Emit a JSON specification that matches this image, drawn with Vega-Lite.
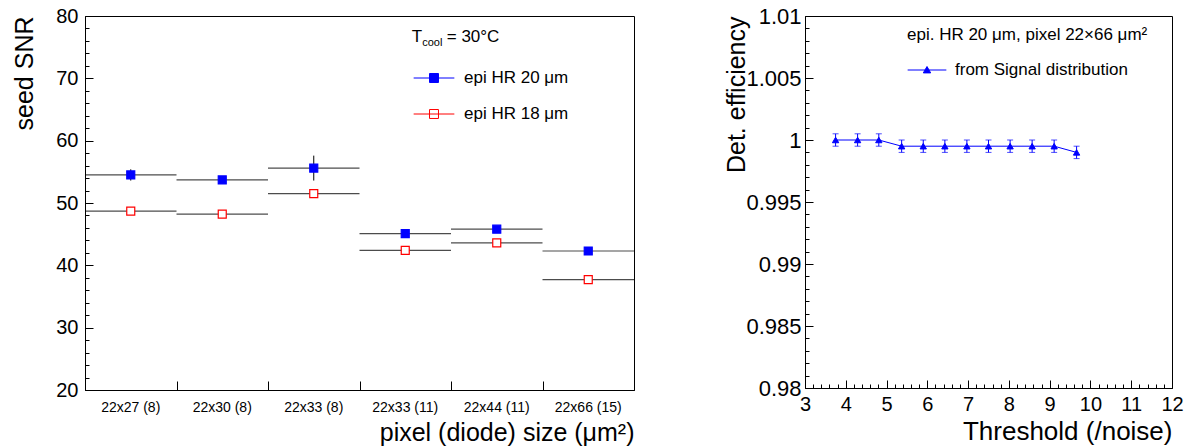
{
  "$schema": "https://vega.github.io/schema/vega-lite/v6.json",
  "padding": {"left": 12, "top": 4, "right": 0, "bottom": 0},
  "background": "white",
  "datasets": {
    "snr": [
      {"size": "22x27 (8)", "series": "epi HR 20 μm", "snr": 54.5, "err": 0.9},
      {"size": "22x30 (8)", "series": "epi HR 20 μm", "snr": 53.7, "err": 0.4},
      {"size": "22x33 (8)", "series": "epi HR 20 μm", "snr": 55.6, "err": 2.0},
      {"size": "22x33 (11)", "series": "epi HR 20 μm", "snr": 45.1, "err": 0.4},
      {"size": "22x44 (11)", "series": "epi HR 20 μm", "snr": 45.8, "err": 0.4},
      {"size": "22x66 (15)", "series": "epi HR 20 μm", "snr": 42.3, "err": 0.4},
      {"size": "22x27 (8)", "series": "epi HR 18 μm", "snr": 48.7, "err": 0.4},
      {"size": "22x30 (8)", "series": "epi HR 18 μm", "snr": 48.2, "err": 0.4},
      {"size": "22x33 (8)", "series": "epi HR 18 μm", "snr": 51.5, "err": 0.5},
      {"size": "22x33 (11)", "series": "epi HR 18 μm", "snr": 42.4, "err": 0.6},
      {"size": "22x44 (11)", "series": "epi HR 18 μm", "snr": 43.6, "err": 0.4},
      {"size": "22x66 (15)", "series": "epi HR 18 μm", "snr": 37.7, "err": 0.4}
    ],
    "eff": [
      {"thr": 3.75, "eff": 1.0, "err": 0.0005, "series": "from Signal distribution"},
      {"thr": 4.29, "eff": 1.0, "err": 0.0005, "series": "from Signal distribution"},
      {"thr": 4.81, "eff": 1.0, "err": 0.0005, "series": "from Signal distribution"},
      {"thr": 5.37, "eff": 0.9995, "err": 0.0005, "series": "from Signal distribution"},
      {"thr": 5.90, "eff": 0.9995, "err": 0.0005, "series": "from Signal distribution"},
      {"thr": 6.43, "eff": 0.9995, "err": 0.0005, "series": "from Signal distribution"},
      {"thr": 6.97, "eff": 0.9995, "err": 0.0005, "series": "from Signal distribution"},
      {"thr": 7.50, "eff": 0.9995, "err": 0.0005, "series": "from Signal distribution"},
      {"thr": 8.03, "eff": 0.9995, "err": 0.0005, "series": "from Signal distribution"},
      {"thr": 8.57, "eff": 0.9995, "err": 0.0005, "series": "from Signal distribution"},
      {"thr": 9.11, "eff": 0.9995, "err": 0.0005, "series": "from Signal distribution"},
      {"thr": 9.66, "eff": 0.999, "err": 0.0005, "series": "from Signal distribution"}
    ],
    "note": [{"cond": "T_cool = 30°C"}]
  },
  "spacing": 89,
  "resolve": {
    "scale": {"fill": "independent", "stroke": "independent", "color": "independent"},
    "legend": {"fill": "independent", "stroke": "independent", "color": "independent"}
  },
  "hconcat": [
    {
      "width": 549,
      "height": 374,
      "data": {"name": "snr"},
      "layer": [
        {
          "mark": {"type": "tick", "orient": "horizontal", "size": 91.5, "thickness": 1.2, "color": "black"},
          "encoding": {
            "x": {"field": "size", "type": "nominal", "sort": null,
                  "scale": {"paddingInner": 0, "paddingOuter": 0},
                  "axis": {"title": "pixel (diode) size (μm²)", "titleAnchor": "end", "titleFontSize": 25, "titlePadding": 6,
                           "labelFontSize": 14, "labelPadding": 10, "ticks": false, "labelAngle": 0, "domain": true}},
            "y": {"field": "snr", "type": "quantitative", "scale": {"domain": [20, 80], "nice": false, "zero": false},
                  "axis": {"title": "seed SNR", "titleAnchor": "end", "titleFontSize": 25, "titlePadding": 18,
                           "labelFontSize": 20, "labelPadding": 7, "ticks": false,
                           "values": [20, 30, 40, 50, 60, 70, 80], "labelFlush": false, "labelOverlap": false}}
          }
        },
        {
          "mark": {"type": "errorbar", "ticks": false, "color": "black", "thickness": 1},
          "encoding": {
            "x": {"field": "size", "type": "nominal", "sort": null,
                  "axis": {"orient": "bottom", "labels": false, "domain": false, "title": null, "tickBand": "extent", "tickSize": -9}},
            "y": {"field": "snr", "type": "quantitative",
                  "axis": {"orient": "left", "labels": false, "domain": false, "title": null, "tickSize": -8,
                           "values": [20, 30, 40, 50, 60, 70, 80]}},
            "yError": {"field": "err"}
          }
        },
        {
          "mark": {"type": "point", "shape": "square", "size": 64, "strokeWidth": 1.2, "opacity": 1},
          "encoding": {
            "x": {"field": "size", "type": "nominal", "sort": null, "axis": null},
            "y": {"field": "snr", "type": "quantitative",
                  "axis": {"orient": "left", "labels": false, "domain": false, "title": null, "tickSize": -4,
                           "values": [22, 24, 26, 28, 32, 34, 36, 38, 42, 44, 46, 48, 52, 54, 56, 58, 62, 64, 66, 68, 72, 74, 76, 78]}},
            "fill": {"field": "series", "type": "nominal",
                     "scale": {"domain": ["epi HR 20 μm", "epi HR 18 μm"], "range": ["#0000ff", "#ffffff"]},
                     "legend": {"title": null, "orient": "none", "legendX": 328, "legendY": 41, "labelFontSize": 17, "labelOffset": 9,
                                "symbolType": "M-1,0H1M-0.22,-0.22H0.22V0.22H-0.22Z", "symbolSize": 1656, "symbolStrokeWidth": 1,
                                "rowPadding": 7, "padding": 0}},
            "stroke": {"field": "series", "type": "nominal",
                       "scale": {"domain": ["epi HR 20 μm", "epi HR 18 μm"], "range": ["#0000ff", "#ff0000"]},
                       "legend": {"title": null, "orient": "none", "legendX": 328, "legendY": 41, "labelFontSize": 17, "labelOffset": 9,
                                  "symbolType": "M-1,0H1M-0.22,-0.22H0.22V0.22H-0.22Z", "symbolSize": 1656, "symbolStrokeWidth": 1,
                                  "rowPadding": 7, "padding": 0}}
          }
        },
        {
          "data": {"name": "note"},
          "mark": {"type": "text", "align": "left", "baseline": "alphabetic", "fontSize": 17, "dx": 6.5},
          "encoding": {
            "x": {"datum": "22x33 (11)", "type": "nominal", "axis": null},
            "y": {"datum": 75.85, "type": "quantitative", "axis": null},
            "text": {"value": "T"}
          }
        },
        {
          "data": {"name": "note"},
          "mark": {"type": "text", "align": "left", "baseline": "alphabetic", "fontSize": 11, "dx": 17, "dy": 4.5},
          "encoding": {
            "x": {"datum": "22x33 (11)", "type": "nominal", "axis": null},
            "y": {"datum": 75.85, "type": "quantitative", "axis": null},
            "text": {"value": "cool"}
          }
        },
        {
          "data": {"name": "note"},
          "mark": {"type": "text", "align": "left", "baseline": "alphabetic", "fontSize": 17, "dx": 41.5},
          "encoding": {
            "x": {"datum": "22x33 (11)", "type": "nominal", "axis": null},
            "y": {"datum": 75.85, "type": "quantitative", "axis": null},
            "text": {"value": "= 30°C"}
          }
        }
      ],
      "resolve": {"axis": {"x": "independent", "y": "independent"}}
    },
    {
      "width": 367,
      "height": 372,
      "data": {"name": "eff"},
      "layer": [
        {
          "mark": {"type": "line", "color": "#0000ff", "strokeWidth": 1},
          "encoding": {
            "x": {"field": "thr", "type": "quantitative", "scale": {"domain": [3, 12], "nice": false, "zero": false},
                  "axis": {"values": [3, 4, 5, 6, 7, 8, 9, 10, 11, 12], "ticks": false, "labelFontSize": 20, "labelPadding": 6,
                           "labelFlush": false, "labelOverlap": false,
                           "title": "Threshold (/noise)", "titleAnchor": "end", "titleFontSize": 26, "titlePadding": 4}},
            "y": {"field": "eff", "type": "quantitative", "scale": {"domain": [0.98, 1.01], "nice": false, "zero": false},
                  "axis": {"values": [0.98, 0.985, 0.99, 0.995, 1, 1.005, 1.01], "format": ".4~g", "ticks": false,
                           "labelFontSize": 22, "labelPadding": 4, "labelFlush": false, "labelOverlap": false,
                           "title": "Det. efficiency", "titleAnchor": "end", "titleFontSize": 25, "titlePadding": -4}}
          }
        },
        {
          "mark": {"type": "errorbar", "ticks": {"size": 6, "thickness": 1}, "color": "#0000ff", "thickness": 1},
          "encoding": {
            "x": {"field": "thr", "type": "quantitative",
                  "axis": {"orient": "bottom", "labels": false, "domain": false, "title": null, "tickSize": -8,
                           "values": [3, 4, 5, 6, 7, 8, 9, 10, 11, 12]}},
            "y": {"field": "eff", "type": "quantitative",
                  "axis": {"orient": "left", "labels": false, "domain": false, "title": null, "tickSize": -8,
                           "values": [0.98, 0.985, 0.99, 0.995, 1, 1.005, 1.01]}},
            "yError": {"field": "err"}
          }
        },
        {
          "mark": {"type": "point", "shape": "triangle-up", "size": 40, "strokeWidth": 1, "opacity": 1},
          "encoding": {
            "x": {"field": "thr", "type": "quantitative",
                  "axis": {"orient": "bottom", "labels": false, "domain": false, "title": null, "tickSize": -4,
                           "values": [3.2, 3.4, 3.6, 3.8, 4.2, 4.4, 4.6, 4.8, 5.2, 5.4, 5.6, 5.8, 6.2, 6.4, 6.6, 6.8, 7.2, 7.4, 7.6, 7.8, 8.2, 8.4, 8.6, 8.8, 9.2, 9.4, 9.6, 9.8, 10.2, 10.4, 10.6, 10.8, 11.2, 11.4, 11.6, 11.8]}},
            "y": {"field": "eff", "type": "quantitative",
                  "axis": {"orient": "left", "labels": false, "domain": false, "title": null, "tickSize": -4,
                           "values": [0.981, 0.982, 0.983, 0.984, 0.986, 0.987, 0.988, 0.989, 0.991, 0.992, 0.993, 0.994, 0.996, 0.997, 0.998, 0.999, 1.001, 1.002, 1.003, 1.004, 1.006, 1.007, 1.008, 1.009]}},
            "fill": {"field": "series", "type": "nominal", "scale": {"domain": ["from Signal distribution"], "range": ["#0000ff"]},
                     "legend": {"title": "epi. HR 20 μm, pixel 22×66 μm²", "orient": "none", "legendX": 102, "legendY": 11,
                                "titleFontSize": 17, "titleFontWeight": "normal", "titlePadding": 6, "titleColor": "black",
                                "labelFontSize": 17, "labelOffset": 8, "padding": 0,
                                "symbolType": "M-1,0H1M0,-0.18L0.19,0.15H-0.19Z", "symbolSize": 1498, "symbolStrokeWidth": 1}},
            "stroke": {"field": "series", "type": "nominal", "scale": {"domain": ["from Signal distribution"], "range": ["#0000ff"]},
                       "legend": {"title": "epi. HR 20 μm, pixel 22×66 μm²", "orient": "none", "legendX": 102, "legendY": 11,
                                  "titleFontSize": 17, "titleFontWeight": "normal", "titlePadding": 6, "titleColor": "black",
                                  "labelFontSize": 17, "labelOffset": 8, "padding": 0,
                                  "symbolType": "M-1,0H1M0,-0.18L0.19,0.15H-0.19Z", "symbolSize": 1498, "symbolStrokeWidth": 1}}
          }
        }
      ],
      "resolve": {"axis": {"x": "independent", "y": "independent"}}
    }
  ],
  "config": {
    "font": "Liberation Sans",
    "view": {"stroke": "black", "strokeWidth": 1},
    "axis": {"domainColor": "black", "tickColor": "black", "labelColor": "black", "titleColor": "black",
             "titleFontWeight": "normal", "grid": false, "domainWidth": 1, "tickWidth": 1},
    "legend": {"labelColor": "black", "titleColor": "black", "labelLimit": 400, "titleLimit": 500}
  }
}
